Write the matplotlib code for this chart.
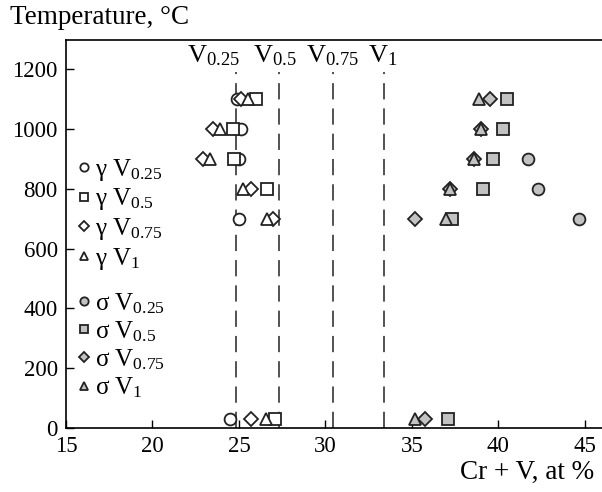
import matplotlib
matplotlib.use("Agg")
import matplotlib.pyplot as plt
from matplotlib.lines import Line2D

plt.rcParams['font.family'] = ['Liberation Serif', 'DejaVu Serif']
plt.rcParams['mathtext.fontset'] = 'custom'
plt.rcParams['mathtext.rm'] = 'Liberation Serif'
plt.rcParams['mathtext.it'] = 'Liberation Serif:italic'

# gamma phase (open markers)
g_v025_x = [24.9, 25.15, 25.0, 25.0, 24.5]
g_v025_y = [1100, 1000, 900, 700, 30]
g_v05_x = [26.0, 24.65, 24.7, 26.65, 27.1]
g_v05_y = [1100, 1000, 900, 800, 30]
g_v075_x = [25.1, 23.5, 22.9, 25.7, 26.95, 25.7]
g_v075_y = [1100, 1000, 900, 800, 700, 30]
g_v1_x = [25.5, 23.9, 23.3, 25.25, 26.6, 26.55]
g_v1_y = [1100, 1000, 900, 800, 700, 30]

# sigma phase (grey markers)
s_v025_x = [41.7, 42.3, 44.65]
s_v025_y = [900, 800, 700]
s_v05_x = [40.5, 40.3, 39.7, 39.1, 37.3, 37.1]
s_v05_y = [1100, 1000, 900, 800, 700, 30]
s_v075_x = [39.5, 39.0, 38.6, 37.2, 35.2, 35.75]
s_v075_y = [1100, 1000, 900, 800, 700, 30]
s_v1_x = [38.9, 39.0, 38.6, 37.2, 37.0, 35.2]
s_v1_y = [1100, 1000, 900, 800, 700, 30]

# vertical composition lines
vline_x = [24.83, 27.3, 30.43, 33.4]
vline_labels = [r"V$_{\mathrm{0.25}}$", r"V$_{\mathrm{0.5}}$", r"V$_{\mathrm{0.75}}$", r"V$_{\mathrm{1}}$"]
vlabel_x = [23.5, 27.1, 30.4, 33.3]

fig = plt.figure(figsize=(6.02, 4.92), dpi=100)
ax = fig.add_axes([66/602, 1-428/492, 536/602, 388/492])

ax.set_xlim(15, 46)
ax.set_ylim(0, 1297)

for xv in vline_x:
    ax.plot([xv, xv], [0, 1190], color='#444444', lw=1.3, dashes=(9, 5))
for xl, lab in zip(vlabel_x, vline_labels):
    ax.text(xl, 1245, lab, ha='center', va='center', fontsize=19)

ms = 8.5
ew = 1.3
gfill = '#c2c2c2'
ec = '#222222'

ax.plot(g_v025_x, g_v025_y, 'o', ms=ms, mfc='white', mec=ec, mew=ew, ls='none', zorder=3)
ax.plot(g_v05_x, g_v05_y, 's', ms=ms, mfc='white', mec=ec, mew=ew, ls='none', zorder=3)
ax.plot(g_v075_x, g_v075_y, 'D', ms=ms-1.5, mfc='white', mec=ec, mew=ew, ls='none', zorder=3)
ax.plot(g_v1_x, g_v1_y, '^', ms=ms, mfc='white', mec=ec, mew=ew, ls='none', zorder=3)

ax.plot(s_v025_x, s_v025_y, 'o', ms=ms, mfc=gfill, mec=ec, mew=ew, ls='none', zorder=3)
ax.plot(s_v05_x, s_v05_y, 's', ms=ms, mfc=gfill, mec=ec, mew=ew, ls='none', zorder=3)
ax.plot(s_v075_x, s_v075_y, 'D', ms=ms-1.5, mfc=gfill, mec=ec, mew=ew, ls='none', zorder=3)
ax.plot(s_v1_x, s_v1_y, '^', ms=ms, mfc=gfill, mec=ec, mew=ew, ls='none', zorder=3)

# legends
lms = 6
def h(m, fc, s=lms):
    return Line2D([], [], marker=m, ms=s, mfc=fc, mec=ec, mew=1.3, ls='none')

g_handles = [h('o', 'white'), h('s', 'white'), h('D', 'white', lms-1), h('^', 'white')]
g_labels = [r"γ V$_{\mathrm{0.25}}$", r"γ V$_{\mathrm{0.5}}$", r"γ V$_{\mathrm{0.75}}$", r"γ V$_{\mathrm{1}}$"]
s_handles = [h('o', gfill), h('s', gfill), h('D', gfill, lms-1), h('^', gfill)]
s_labels = [r"σ V$_{\mathrm{0.25}}$", r"σ V$_{\mathrm{0.5}}$", r"σ V$_{\mathrm{0.75}}$", r"σ V$_{\mathrm{1}}$"]

kw = dict(frameon=False, fontsize=18, handlelength=0.6, handletextpad=0.15,
          labelspacing=0.14, borderpad=0, borderaxespad=0, loc='upper left')
leg1 = ax.legend(g_handles, g_labels, bbox_to_anchor=((76-66)/536, (428-157)/388), **kw)
ax.add_artist(leg1)
ax.legend(s_handles, s_labels, bbox_to_anchor=((76-66)/536, (428-291)/388), **kw)

ax.set_xticks([15, 20, 25, 30, 35, 40, 45])
ax.set_yticks([0, 200, 400, 600, 800, 1000, 1200])
ax.tick_params(direction='in', length=6, width=1, labelsize=16.5, pad=6)
ax.spines['right'].set_visible(False)
for s in ['left', 'bottom', 'top']:
    ax.spines[s].set_linewidth(1.2)

fig.text(10/602, 1-18/492, "Temperature, °C", fontsize=19.5, ha='left', va='center')
fig.text(594/602, 1-472/492, "Cr + V, at %", fontsize=19.5, ha='right', va='center')

fig.savefig("out.png", dpi=100)
